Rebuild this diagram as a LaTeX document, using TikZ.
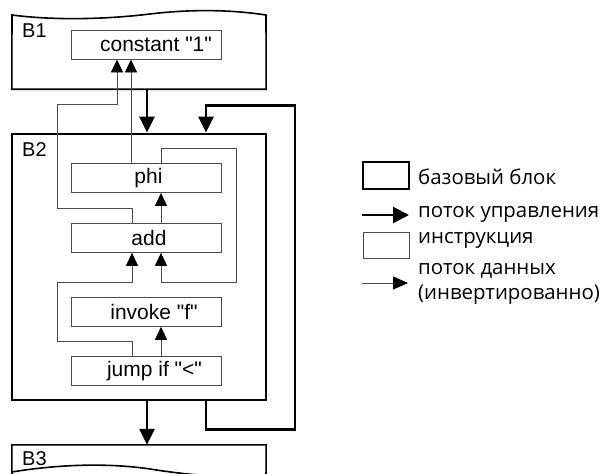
\documentclass[tikz,border=0pt]{standalone}
\usepackage{fontspec}
\setmainfont{Liberation Sans}
\newfontfamily\legendfont{Open Sans}
\usetikzlibrary{arrows.meta,positioning,calc}
\definecolor{FlowGray}{HTML}{4A4A4A}

\begin{document}
\begin{tikzpicture}[x=1pt,y=-1pt]
    \tikzset{instr/.style={draw=FlowGray,line width=0.9pt,minimum width=150pt,minimum height=29pt,font=\fontsize{21}{23}\selectfont,inner sep=0pt},
      block/.style={minimum width=254pt,inner sep=0pt},
      ctrl/.style={line width=2.6pt,-{Triangle[length=16pt,width=15pt]}},
      data/.style={draw=FlowGray,line width=0.9pt,-{Triangle[length=13pt,width=12pt,fill=black,color=black]}},
      blabel/.style={font=\fontsize{20}{22}\selectfont,anchor=base west,inner sep=0pt},
      legtext/.style={font=\legendfont\fontsize{20.4}{25}\selectfont,anchor=west,inner sep=0pt,align=left}}
    \useasboundingbox (0,0) rectangle (611,474);
    % basic blocks
    \node[block,minimum height=74pt] (b1) at (139,52) {};
    \draw[line width=1.6pt] (b1.south west) -- (12,15) .. controls (50,20) and (100,20) .. (150,14)
      .. controls (200,8) and (240,11) .. (266,15) -- (b1.south east) -- cycle;
    \node[block,draw,line width=2.8pt,minimum height=266pt] (b2) at (139,267) {};
    \node[block,minimum height=29pt] (b3) at (139,459.5) {};
    \draw[line width=1.6pt] (12,480) -- (b3.north west) -- (b3.north east) -- (266,480);
    \draw[line width=1.6pt] (12,472) .. controls (60,464) and (110,463) .. (150,469)
      .. controls (200,477) and (240,478) .. (266,476);
    \node[blabel] (l1) at (22,37) {B1};
    \node[blabel] (l2) at (22,156) {B2};
    \node[blabel] (l3) at (22,465.5) {B3};
    % instructions
    \node[instr] (const) at (146,44.5) {\hspace{20pt}constant \textquotedbl 1\textquotedbl};
    \node[instr] (phi) at (146,178) {\hspace{5pt}phi};
    \node[instr,below=30pt of phi] (add) {\hspace{6pt}add};
    \node[instr,below=44pt of add] (invoke) {\hspace{16pt}invoke \textquotedbl f\textquotedbl};
    \node[instr,below=29pt of invoke] (jump) {\hspace{17pt}jump if \textquotedbl <\textquotedbl};
    % data flow (inverted)
    \draw[data] ([xshift=-14pt]add.north) -- ++(0,-15) -- ++(-75,0) -- ++(0,-104) -- ++(60,0) -- ([xshift=-29pt]const.south);
    \draw[data] ([xshift=-15pt]phi.north) -- ([xshift=-15pt]const.south);
    \draw[data] ([xshift=15pt]add.north) -- ([xshift=15pt]phi.south);
    \draw[data] ([xshift=15pt]phi.north) -- ++(0,-15) -- ++(75,0) -- ++(0,134) -- ++(-75,0) -- ([xshift=15pt]add.south);
    \draw[data] ([xshift=-14pt]jump.north) -- ++(0,-14) -- ++(-75,0) -- ++(0,-59) -- ++(75,0) -- ([xshift=-14pt]add.south);
    \draw[data] ([xshift=15pt]jump.north) -- ([xshift=15pt]invoke.south);
    % control flow
    \draw[ctrl] ([xshift=8pt]b1.south) -- ([xshift=8pt]b2.north);
    \draw[ctrl] ([xshift=67pt]b2.south) -- ++(0,28) -- ++(89,0) -- ++(0,-324) -- ++(-89,0) -- ([xshift=67pt]b2.north);
    \draw[ctrl] ([xshift=8pt]b2.south) -- ([xshift=8pt]b3.north);
    % legend
    \node[draw,line width=2.8pt,minimum width=46pt,minimum height=27pt,inner sep=0pt] (kblock) at (386,175.5) {};
    \coordinate (karrow) at (362,215);
    \coordinate (karrowend) at (409,215);
    \node[draw=FlowGray,line width=0.9pt,minimum width=46pt,minimum height=26pt,inner sep=0pt] (kinstr) at (386,245) {};
    \coordinate (kdata) at (362,283);
    \coordinate (kdataend) at (408,283);
    \draw[line width=2.4pt,-{Triangle[length=16pt,width=16pt]}] (karrow) -- (karrowend);
    \draw[draw=FlowGray,line width=0.9pt,-{Triangle[length=15pt,width=13pt,fill=black,color=black]}] (kdata) -- (kdataend);
    \node[legtext] (tblock) at (418,177) {базовый блок};
    \node[legtext] (tctrl) at (418,214) {поток управления};
    \node[legtext] (tinstr) at (418,240) {инструкция};
    \node[legtext] (tdata) at (418,284) {поток данных\\(инвертированно)};
\end{tikzpicture}
\end{document}
